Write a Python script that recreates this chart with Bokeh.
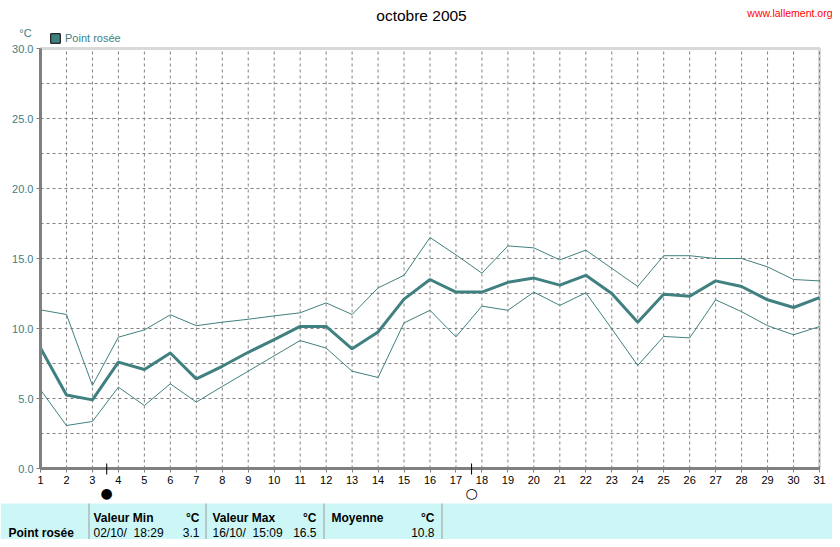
from bokeh.plotting import figure
from bokeh.models import (Range1d, FixedTicker, Label, BoxAnnotation, Legend,
                          LegendItem, NumeralTickFormatter)
from bokeh.embed import file_html
from bokeh.resources import INLINE

# ---------------- data ----------------
days = list(range(1, 32))
dew_mean = [8.6, 5.25, 4.9, 7.6, 7.07, 8.25, 6.4, 7.3, 8.3, 9.2, 10.15,
            10.15, 8.55, 9.75, 12.1, 13.5, 12.6, 12.6, 13.3, 13.6, 13.1,
            13.8, 12.5, 10.45, 12.45, 12.3, 13.4, 13.0, 12.05, 11.5, 12.2]
dew_max = [11.33, 11.0, 5.93, 9.38, 9.9, 10.98, 10.2, 10.45, 10.66, 10.9, 11.12,
           11.83, 11.0, 12.9, 13.8, 16.5, 15.26, 13.95, 15.9, 15.76, 14.9,
           15.6, 14.3, 13.0, 15.2, 15.2, 15.0, 15.0, 14.4, 13.5, 13.4]
dew_min = [5.62, 3.07, 3.36, 5.81, 4.5, 6.05, 4.74, 5.86, 6.95, 8.05, 9.14,
           8.6, 6.95, 6.5, 10.4, 11.3, 9.4, 11.6, 11.3, 12.6, 11.65,
           12.55, 9.98, 7.36, 9.43, 9.33, 12.05, 11.2, 10.2, 9.55, 10.14]
y_ticks = [0, 5, 10, 15, 20, 25, 30]
y_grid = [2.5, 5, 7.5, 10, 12.5, 15, 17.5, 20, 22.5, 25, 27.5]
moon_days = [3.55, 17.6]
moon_symbols = ["\u25CF", "\u25CB"]
series_name = "Point rosée"
title_text = "octobre 2005"
site_text = "www.lallement.org"
unit_text = "°C"
table_headers = ["Valeur Min", "Valeur Max", "Moyenne"]
table_dates = ["02/10/\u00a0 18:29", "16/10/\u00a0 15:09", ""]
table_values = ["3.1", "16.5", "10.8"]

TEAL = "#408080"
GRAY = "#808080"
FONT = "Liberation Sans"

W, H = 832, 539
PX_DAY = 779 / 30.0      # pixels per day in the reference
PX_DEG = 14.0            # pixels per degree in the reference
X0, Y0 = 40, 468         # pixel position of (day 1, 0 °C)

x_start = days[0] - X0 / PX_DAY
x_end = x_start + W / PX_DAY
y_start = -(H - Y0) / PX_DEG
y_end = y_start + H / PX_DEG

p = figure(width=W, height=H, output_backend="svg", toolbar_location=None,
           x_range=Range1d(x_start, x_end), y_range=Range1d(y_start, y_end),
           min_border=0)
p.background_fill_color = "white"
p.border_fill_color = "white"
p.outline_line_color = None

x_lo, x_hi = days[0], days[-1]
y_lo, y_hi = y_ticks[0], y_ticks[-1]

p.xaxis.ticker = FixedTicker(ticks=days, minor_ticks=[])
p.yaxis.ticker = FixedTicker(ticks=y_ticks, minor_ticks=[])
p.yaxis.formatter = NumeralTickFormatter(format="0.0")
p.xaxis.fixed_location = y_lo
p.yaxis.fixed_location = x_lo
p.xaxis.bounds = (x_lo, x_hi)
p.yaxis.bounds = (y_lo, y_hi)
for ax in (p.xaxis[0], p.yaxis[0]):
    ax.axis_line_color = GRAY
    ax.axis_line_width = 3
    ax.major_tick_line_color = GRAY
    ax.major_tick_out = 4
    ax.major_tick_in = 0
    ax.minor_tick_line_color = None
    ax.major_label_text_font = FONT
    ax.major_label_text_font_size = "11px"
    ax.major_label_standoff = 3
p.xaxis.major_label_text_color = "black"
p.yaxis.major_label_text_color = TEAL
p.xgrid.visible = False
p.ygrid.visible = False

# dashed grid limited to the plotting box
p.segment(x0=days, y0=[y_lo] * len(days), x1=days, y1=[y_hi] * len(days),
          line_color=GRAY, line_dash="3 3", line_width=1, level="underlay")
p.segment(x0=[x_lo] * len(y_grid), y0=y_grid, x1=[x_hi] * len(y_grid), y1=y_grid,
          line_color=GRAY, line_dash="3 3", line_width=1, level="underlay")

# frame (top / right borders)
p.add_layout(BoxAnnotation(left=x_lo, right=x_hi, bottom=y_lo, top=y_hi,
                           fill_alpha=0, line_color=GRAY, line_width=3, level="underlay"))

p.line(days, dew_max, line_color=TEAL, line_width=1)
p.line(days, dew_min, line_color=TEAL, line_width=1)
p.line(days, dew_mean, line_color=TEAL, line_width=3)

# legend with a square swatch (swatch renderer holds no visible data)
nan = float("nan")
sw = p.quad(left=[nan], right=[nan], top=[nan], bottom=[nan],
            fill_color=TEAL, line_color="black", line_width=1)
leg = Legend(items=[LegendItem(label=series_name, renderers=[sw])], location=(49, H - 44),
             border_line_color=None, background_fill_alpha=0, padding=0, margin=0,
             spacing=0, glyph_width=12, glyph_height=12, label_height=12,
             label_standoff=4, label_text_font=FONT, label_text_font_size="11px",
             label_text_color=TEAL)
p.add_layout(leg)


def sy(ay):
    return H - ay


def lab(text, ax, ay, align="left", color="black", size="11px", bold=False):
    p.add_layout(Label(x=ax, y=sy(ay), x_units="screen", y_units="screen",
                       text=text, text_align=align, text_baseline="middle",
                       text_color=color, text_font=FONT, text_font_size=size,
                       text_font_style="bold" if bold else "normal"))


def box(l, r, t, b, color):
    p.add_layout(BoxAnnotation(left=l, right=r, top=sy(t), bottom=sy(b),
                               left_units="screen", right_units="screen",
                               top_units="screen", bottom_units="screen",
                               fill_color=color, fill_alpha=1, line_alpha=0))


# moon phase markers
for d, s in zip(moon_days, moon_symbols):
    p.add_layout(BoxAnnotation(left=d - 0.02, right=d + 0.02, top=sy(463), bottom=sy(474),
                               left_units="data", right_units="data",
                               top_units="screen", bottom_units="screen",
                               fill_color="black", fill_alpha=1, line_alpha=0))
    p.add_layout(Label(x=d, y=sy(492), x_units="data", y_units="screen", text=s,
                       text_align="center", text_baseline="middle", text_color="black",
                       text_font="DejaVu Sans", text_font_size="14px"))

# table
box(0, W, 503, H + 5, "#CDF7F7")
for xs in (88, 205, 323, 441):
    box(xs, xs + 1, 503, H + 5, "#9A9A9A")

lab(title_text, 421, 15, align="center", size="15.5px")
lab(site_text, W, 12, align="right", color="red", size="10.5px")
lab(unit_text, 25, 32, align="center", color=TEAL, size="11px")

col_left = [93, 212, 331]
col_right = [199, 316, 434]
for hdr, dt, v, xl, xr in zip(table_headers, table_dates, table_values, col_left, col_right):
    lab(hdr, xl, 517, bold=True, size="12px")
    lab(unit_text, xr, 517, align="right", bold=True, size="12px")
    if dt:
        lab(dt, xl, 532, size="12px")
    lab(v, xr, 532, align="right", size="12px")
lab(series_name, 8, 532, bold=True, size="12px")

open("out.html", "w").write(file_html(p, INLINE))
